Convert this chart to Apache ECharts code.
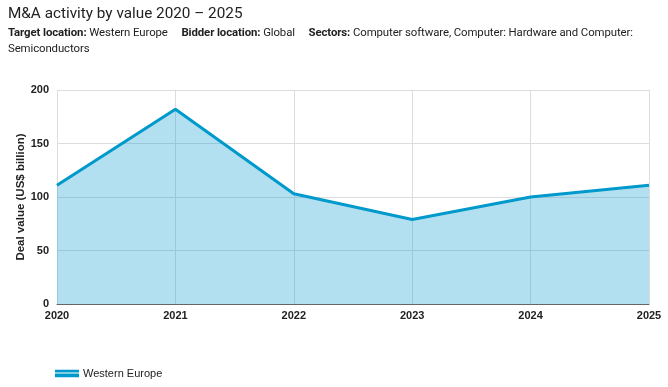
<!DOCTYPE html>
<html><head><meta charset="utf-8">
<script src="https://cdn.jsdelivr.net/npm/echarts@6/dist/echarts.min.js"></script>
<style>
html,body{margin:0;padding:0;background:#fff;}
#hdr{position:absolute;left:8px;top:0;width:660px;font-family:Roboto,"Liberation Sans",sans-serif;color:#222;}
#t{font-size:15.3px;margin-top:3px;line-height:20px;}
#s{font-size:11.4px;line-height:16px;margin-top:1px;letter-spacing:-0.1px;}
#s b{font-weight:bold;}
#c{position:absolute;left:0;top:0;width:668px;height:387px;}
</style></head><body>
<div id="c"></div>
<div id="hdr"><div id="t">M&amp;A activity by value 2020 – 2025</div>
<div id="s"><b>Target location:</b> Western Europe &nbsp;&nbsp;&nbsp; <b>Bidder location:</b> Global &nbsp;&nbsp;&nbsp; <b>Sectors:</b> Computer software, Computer: Hardware and Computer: Semiconductors</div></div>
<script>
const years = ['2020','2021','2022','2023','2024','2025'];
const westernEurope = [111, 182, 103, 79, 100, 111];
const seriesName = 'Western Europe';
const chart = echarts.init(document.getElementById('c'));
chart.setOption({
  animation:false,
  grid:{left:57,right:19,top:90,bottom:83},
  legend:{left:55,top:368,padding:0,itemWidth:24,itemHeight:8,itemGap:10,
    textStyle:{fontFamily:'Liberation Sans',fontSize:11,color:'#222',padding:[0,0,0,-1]},
    data:[{name:seriesName,icon:'path://M0,0H25V3H0Z M0,4H25V8H0Z'}]},
  xAxis:{type:'category',data:years,boundaryGap:false,
    axisLine:{lineStyle:{color:'#666',width:1}},axisTick:{show:false},
    axisLabel:{fontFamily:'Liberation Sans',fontWeight:'bold',fontSize:11,color:'#222',margin:6,
      align:'center'},
    splitLine:{show:true,lineStyle:{color:'#ddd'}}},
  yAxis:{type:'value',min:0,max:200,interval:50,
    name:'Deal value (US$ billion)',nameLocation:'middle',nameGap:30,nameMoveOverlap:false,
    nameTextStyle:{fontFamily:'Liberation Sans',fontWeight:'bold',fontSize:11.5,color:'#222'},
    axisLine:{show:true,lineStyle:{color:'#ddd'}},axisTick:{show:false},
    axisLabel:{fontFamily:'Liberation Sans',fontWeight:'bold',fontSize:11,color:'#222',margin:8},
    splitLine:{lineStyle:{color:'#ddd'}}},
  series:[{name:seriesName,type:'line',data:westernEurope,symbol:'none',
    lineStyle:{color:'#0099cc',width:3},itemStyle:{color:'#0099cc'},
    areaStyle:{color:'rgba(0,153,204,0.3)',opacity:1}}]
});
</script></body></html>
